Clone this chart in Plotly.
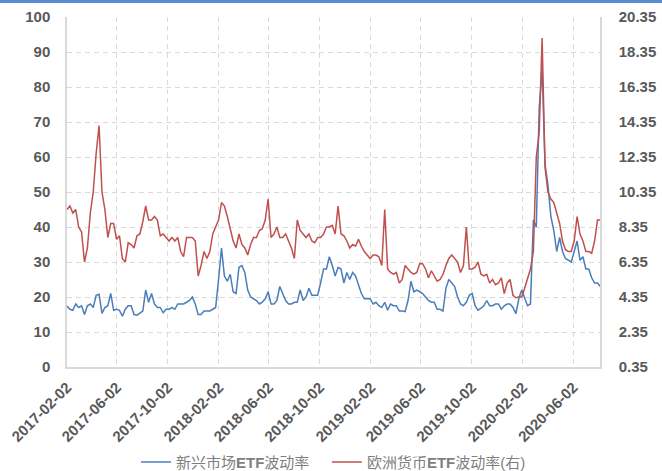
import pandas as pd
import plotly.graph_objects as go

# weekly observations starting 2017-02-02
start_date = "2017-02-02"

em_vol = [
    17.4, 16.5, 16.2, 18, 17, 17.5, 15, 17.5, 18, 17,
    20.5, 20.8, 15.3, 17, 17.5, 21, 16.2, 16.5, 16.2, 14.5,
    16.5, 17.5, 17.5, 15, 14.8, 15.5, 16, 22, 18.5, 21,
    18, 17, 17, 15.5, 16.5, 16.5, 17, 16.5, 18, 18,
    18, 18.5, 19, 20, 18, 15, 15, 16, 16, 16,
    16.5, 17, 25, 34, 26, 24.5, 26.5, 21.5, 21, 28.5,
    29, 27, 22, 20, 19.5, 19, 18, 18.5, 19.5, 21.5,
    18, 18, 19, 23, 21, 19, 18, 18, 18.5, 18.5,
    22, 19, 20, 22.5, 20.5, 20.5, 20.5, 24, 28, 28,
    31.5, 29, 26, 28.5, 28, 24, 27, 25, 27, 26,
    23.5, 21, 19.5, 19.5, 19.5, 18, 18.5, 17.5, 17, 18.5,
    16.2, 18, 17.5, 17.5, 16, 16, 15.8, 19, 24.5, 21.5,
    22, 21.5, 21, 20, 19, 18.5, 18.5, 16.5, 16.5, 16,
    22.5, 25, 24, 23, 20, 18, 17.5, 18.5, 20.5, 21,
    17.5, 16.2, 16.8, 17.5, 19, 17.5, 17.5, 18, 18, 16.5,
    17.5, 18, 18, 17, 15.2, 19.5, 22, 20, 17.5, 18,
    42, 40, 74, 85, 58, 52, 43, 39, 33, 37,
    33, 31, 30.5, 30, 33, 36, 30.5, 31.5, 28, 28,
    25.5, 24, 24, 23,
]

eur_vol = [
    9.35, 9.55, 9.15, 9.35, 8.35, 8.07, 6.35, 7.15, 9.15, 10.35,
    12.55, 14.15, 10.35, 9.35, 7.75, 8.55, 8.55, 7.65, 7.85, 6.55,
    6.35, 7.45, 7.35, 7.15, 7.85, 7.95, 8.65, 9.55, 8.75, 8.75,
    8.95, 8.75, 7.85, 7.95, 7.75, 7.55, 7.75, 7.55, 7.75, 6.95,
    6.65, 7.75, 7.75, 7.75, 7.55, 5.55, 6.15, 6.95, 6.55, 6.95,
    7.95, 8.35, 8.75, 9.75, 9.55, 8.95, 8.15, 7.55, 7.15, 7.95,
    7.35, 7.15, 6.75, 7.35, 7.75, 7.75, 8.15, 8.25, 8.75, 9.95,
    7.75, 7.95, 8.35, 7.75, 7.75, 7.95, 7.55, 7.15, 6.55, 8.75,
    8.15, 7.95, 7.75, 7.95, 7.55, 7.45, 7.75, 7.75, 7.95, 8.35,
    8.35, 8.45, 7.95, 9.55, 7.95, 7.85, 7.55, 7.15, 7.35, 7.25,
    7.65, 7.25, 6.95, 6.75, 6.55, 6.75, 6.75, 6.65, 6.15, 9.35,
    5.95, 5.75, 5.65, 5.75, 5.15, 5.35, 6.15, 5.95, 5.75, 5.65,
    5.75, 6.25, 6.25, 5.95, 5.45, 5.85, 5.55, 5.25, 5.35, 5.65,
    6.15, 6.55, 6.75, 6.55, 6.35, 5.75, 6.15, 8.35, 5.95, 5.95,
    6.05, 6.35, 5.65, 5.55, 5.65, 5.15, 5.35, 5.05, 5.15, 5.45,
    4.55, 5.15, 5.35, 4.45, 4.31, 4.35, 4.35, 4.85, 5.45, 5.95,
    6.95, 12.35, 13.75, 19.15, 11.75, 10.35, 9.95, 9.75, 9.15, 8.55,
    7.55, 7.05, 6.95, 6.95, 7.55, 8.95, 7.95, 7.55, 6.95, 6.95,
    6.85, 7.55, 8.75, 8.75,
]

tick_labels = [
    "2017-02-02", "2017-06-02", "2017-10-02", "2018-02-02", "2018-06-02",
    "2018-10-02", "2019-02-02", "2019-06-02", "2019-10-02", "2020-02-02",
    "2020-06-02",
]

left_ticks = [0, 10, 20, 30, 40, 50, 60, 70, 80, 90, 100]
right_ticks = [0.35, 2.35, 4.35, 6.35, 8.35, 10.35, 12.35, 14.35, 16.35, 18.35, 20.35]

dates = pd.date_range(start_date, periods=len(em_vol), freq="7D")

BLUE = "#4a7ebb"
RED = "#c0504d"
GRID = "#d9d9d9"
TICK_FONT = dict(family="Liberation Sans, Arial, sans-serif", size=15, color="#595959", weight="bold")
CLEAR = "rgba(0,0,0,0)"

fig = go.Figure()
fig.add_trace(go.Scatter(
    x=dates, y=em_vol, mode="lines", name="新兴市场<b>ETF</b>波动率\u00a0\u00a0\u00a0",
    line=dict(color=BLUE, width=1.5), yaxis="y",
))
fig.add_trace(go.Scatter(
    x=dates, y=eur_vol, mode="lines", name="欧洲货币<b>ETF</b>波动率(右)",
    line=dict(color=RED, width=1.5), yaxis="y2",
))

fig.update_layout(
    width=662, height=471,
    margin=dict(l=67, r=62, t=17, b=104, autoexpand=False),
    paper_bgcolor="white", plot_bgcolor="white",
    showlegend=True,
    legend=dict(
        orientation="h", x=0.5, xanchor="center", y=-0.272, yanchor="middle",
        font=dict(family="Liberation Sans, Noto Sans CJK SC, sans-serif", size=15, color="#7f7f7f"),
        itemwidth=30, tracegroupgap=0,
    ),
    xaxis=dict(
        type="date", automargin=False,
        range=["2017-02-02", "2020-08-05"],
        tickvals=tick_labels, ticktext=tick_labels,
        tickangle=-45, tickfont=TICK_FONT,
        showgrid=True, gridcolor=GRID, griddash="5px,4px", gridwidth=1,
        showline=True, linecolor=GRID, linewidth=1.5,
        ticks="outside", ticklen=4, tickcolor=CLEAR, zeroline=False,
    ),
    yaxis=dict(
        range=[0, 100], tickvals=left_ticks, automargin=False,
        tickfont=TICK_FONT,
        showgrid=True, gridcolor=GRID, griddash="5px,4px", gridwidth=1,
        showline=True, linecolor=GRID, linewidth=1.5,
        zeroline=False, ticks="outside", ticklen=12, tickcolor=CLEAR,
    ),
    yaxis2=dict(
        range=[0.35, 20.35], tickvals=right_ticks, tickformat=".2f",
        overlaying="y", side="right", automargin=False,
        tickfont=TICK_FONT,
        showgrid=False,
        showline=True, linecolor=GRID, linewidth=1.5,
        zeroline=False, ticks="outside", ticklen=14, tickcolor=CLEAR,
    ),
    shapes=[dict(
        type="line", xref="paper", yref="paper",
        x0=-0.2, x1=1.2, y0=1.0443, y1=1.0443,
        line=dict(color="#5a8ad0", width=3),
    )],
)

fig.write_html(
    "out.html",
    config={"displayModeBar": False},
    post_script="document.body.style.margin='0';",
)
